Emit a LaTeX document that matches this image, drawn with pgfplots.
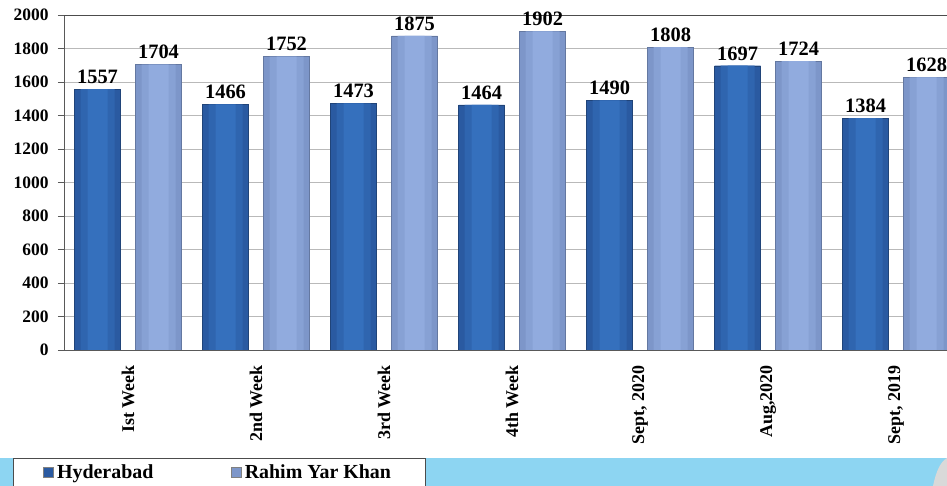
\documentclass[border=0pt]{standalone}
\usepackage{fontspec}
\setmainfont{Liberation Serif}
\usepackage{pgfplots}
\pgfplotsset{compat=1.18}
\definecolor{hydA}{HTML}{2A5AA1}
\definecolor{hydB}{HTML}{2F65AF}
\definecolor{hydC}{HTML}{3570BD}
\definecolor{rykA}{HTML}{7D96C9}
\definecolor{rykB}{HTML}{87A1D4}
\definecolor{rykC}{HTML}{91ABDE}
\definecolor{band}{HTML}{8DD5F2}
\pgfplotstableread{
x hyd ryk
0 1557 1704
1 1466 1752
2 1473 1875
3 1464 1902
4 1490 1808
5 1697 1724
6 1384 1628
}\datatable
\begin{document}
\begin{tikzpicture}[x=1bp,y=1bp]
\useasboundingbox (0,0) rectangle (947,486);
\fill[band] (0,0) rectangle (947,28);
\fill[gray!30] (947,28) -- (947,0) -- (933,0) .. controls (936,14) and (940,24) .. (947,28) -- cycle;
\draw[gray!60!black, fill=white] (13,-5) rectangle (425,28);
\begin{axis}[
  at={(64bp,136bp)}, anchor=south west,
  scale only axis, width=883bp, height=335bp,
  ymin=0, ymax=2000, xmin=-0.5, xmax=6.398,
  ybar,
  axis x line*=bottom, axis y line*=left,
  axis line style={gray!70!black},
  tick align=outside, major tick length=6bp,
  tick style={gray!70!black},
  ytick={0,200,...,2000},
  ymajorgrids, grid style={gray!55},
  xtick={0,...,6},
  xticklabels={Ist Week,2nd Week,3rd Week,4th Week,{Sept, 2020},{Aug,2020},{Sept, 2019}},
  x tick style={draw=none},
  extra x ticks={-0.5,0.5,1.5,2.5,3.5,4.5,5.5},
  extra x tick labels={},
  extra x tick style={tick style={draw=gray!70!black}, major tick length=6bp},
  /pgf/number format/assume math mode=true,
  /pgf/number format/1000 sep={},
  yticklabel style={font=\bfseries\fontsize{17.5}{20}\selectfont, xshift=-6bp},
  xticklabel style={font=\bfseries\fontsize{18}{21}\selectfont, rotate=90, anchor=east, xshift=-6bp},
  every node near coord/.append style={font=\bfseries\fontsize{20.5}{24}\selectfont, text=black, yshift=2bp},
  legend style={at={(-0.0238,-0.364)}, anchor=west, draw=none, fill=none,
    font=\bfseries\fontsize{20}{24}\selectfont, inner sep=0pt,
    nodes={inner xsep=3.5bp},
    /tikz/every even column/.append style={column sep=74bp}},
  legend columns=2, legend cell align=left,
  legend image code/.code={\draw[#1, draw=gray] (0bp,-5bp) rectangle (10bp,5bp);},
  clip=true,
]
\addplot[draw=hydA!75!black, fill=hydA, bar width=46bp, bar shift=-30.5bp, nodes near coords] table[x=x,y=hyd]{\datatable};
\addplot[draw=rykA!80!black, fill=rykA, bar width=46bp, bar shift=30.5bp, nodes near coords] table[x=x,y=ryk]{\datatable};
\addplot[draw=none, fill=hydB, bar width=34bp, bar shift=-30.5bp, forget plot] table[x=x,y=hyd]{\datatable};
\addplot[draw=none, fill=hydC, bar width=20bp, bar shift=-30.5bp, forget plot] table[x=x,y=hyd]{\datatable};
\addplot[draw=none, fill=rykB, bar width=34bp, bar shift=30.5bp, forget plot] table[x=x,y=ryk]{\datatable};
\addplot[draw=none, fill=rykC, bar width=20bp, bar shift=30.5bp, forget plot] table[x=x,y=ryk]{\datatable};
\legend{Hyderabad, Rahim Yar Khan}
\draw[black!70] (axis cs:-0.5,2000) -- (axis cs:6.398,2000);
\end{axis}
\end{tikzpicture}
\end{document}
